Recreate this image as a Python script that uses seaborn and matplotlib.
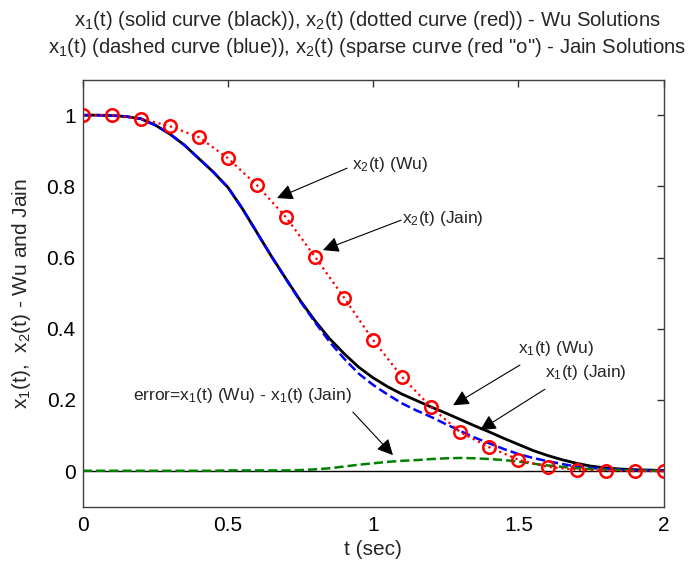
import numpy as np
import matplotlib
matplotlib.use('Agg')
import matplotlib.pyplot as plt
import seaborn as sns

# time grid of the continuous curves (sec)
t_fine = [0.0, 0.05, 0.1, 0.15, 0.2, 0.25, 0.3, 0.35, 0.4, 0.45, 0.5, 0.55, 0.6,
          0.65, 0.7, 0.75, 0.8, 0.85, 0.9, 0.95, 1.0, 1.05, 1.1, 1.15, 1.2, 1.25,
          1.3, 1.35, 1.4, 1.45, 1.5, 1.55, 1.6, 1.65, 1.7, 1.75, 1.8, 1.85, 1.9,
          1.95, 2.0]

x1_wu = [1.0, 1.0, 0.999, 0.996, 0.99, 0.972, 0.947, 0.916, 0.878, 0.84, 0.797,
         0.737, 0.67, 0.603, 0.54, 0.478, 0.422, 0.372, 0.33, 0.292, 0.262, 0.237,
         0.216, 0.198, 0.18, 0.163, 0.145, 0.127, 0.11, 0.092, 0.075, 0.058,
         0.044, 0.032, 0.022, 0.014, 0.009, 0.006, 0.004, 0.003, 0.002]

x1_jain = [1.0, 1.0, 0.999, 0.996, 0.99, 0.972, 0.947, 0.916, 0.878, 0.84, 0.797,
           0.737, 0.67, 0.603, 0.539, 0.476, 0.418, 0.363, 0.316, 0.274, 0.242, 0.215,
           0.19, 0.17, 0.152, 0.132, 0.113, 0.094, 0.078, 0.062, 0.048, 0.037,
           0.028, 0.02, 0.013, 0.009, 0.006, 0.004, 0.003, 0.002, 0.002]

error = [0.001, 0.001, 0.001, 0.001, 0.001, 0.001, 0.001, 0.001, 0.001, 0.001,
         0.002, 0.002, 0.002, 0.002, 0.002, 0.003, 0.005, 0.008, 0.013, 0.018,
         0.022, 0.026, 0.029, 0.031, 0.034, 0.036, 0.037, 0.036, 0.034, 0.031,
         0.027, 0.021, 0.016, 0.012, 0.008, 0.006, 0.004, 0.003, 0.002, 0.001,
         0.001]

# sparse grid
t_sparse = [0.0, 0.1, 0.2, 0.3, 0.4, 0.5, 0.6, 0.7, 0.8, 0.9, 1.0, 1.1, 1.2,
            1.3, 1.4, 1.5, 1.6, 1.7, 1.8, 1.9, 2.0]
x2_wu = [1.0, 1.0, 0.99, 0.969, 0.938, 0.879, 0.803, 0.713, 0.602, 0.487, 0.368,
         0.264, 0.179, 0.109, 0.067, 0.032, 0.012, 0.004, 0.001, 0.0, 0.0]
x2_jain = [1.0, 1.0, 0.99, 0.969, 0.938, 0.879, 0.803, 0.713, 0.602, 0.487, 0.368,
           0.264, 0.179, 0.109, 0.067, 0.032, 0.012, 0.004, 0.001, 0.0, 0.0]

sns.set_style('white')
plt.rcParams['font.family'] = ['Liberation Sans', 'DejaVu Sans']
plt.rcParams['mathtext.fontset'] = 'custom'
plt.rcParams['mathtext.rm'] = 'Liberation Sans'
plt.rcParams['mathtext.it'] = 'Liberation Sans'

fig = plt.figure(figsize=(6.96, 5.67), dpi=100)
ax = fig.add_axes([0.1188, 0.1063, 0.8348, 0.7534])

ax.axhline(0, color='k', lw=1.0, zorder=1)
sns.lineplot(x=t_fine, y=x1_wu, color='k', lw=2.0, ax=ax)
sns.lineplot(x=t_fine, y=x1_jain, color='blue', lw=1.8, linestyle='--', ax=ax)
sns.lineplot(x=t_fine, y=error, color='#008000', lw=1.8, linestyle='--', ax=ax)
sns.lineplot(x=t_sparse, y=x2_wu, color='red', lw=1.6, linestyle=':', ax=ax)
ax.plot(t_sparse, x2_jain, linestyle='none', marker='o', markersize=9,
        markerfacecolor='none', markeredgecolor='red', markeredgewidth=1.8)

ax.set_xlim(0, 2)
ax.set_ylim(-0.1, 1.1)
ax.set_xticks([0, 0.5, 1, 1.5, 2])
ax.set_xticklabels(['0', '0.5', '1', '1.5', '2'])
ax.set_yticks([0, 0.2, 0.4, 0.6, 0.8, 1])
ax.set_yticklabels(['0', '0.2', '0.4', '0.6', '0.8', '1'])
ax.tick_params(direction='in', length=5, width=1, top=True, right=True,
               labelsize=15, colors='#333333', labelcolor='black')
ax.tick_params(axis='x', pad=7)
ax.tick_params(axis='y', pad=5)
for s in ax.spines.values():
    s.set_color('#404040')
    s.set_linewidth(1.0)

ax.set_xlabel('t (sec)', fontsize=15, labelpad=3)
ax.set_ylabel('x$_1$(t),  x$_2$(t) - Wu and Jain', fontsize=15, labelpad=10)
ax.set_title('x$_1$(t) (solid curve (black)), x$_2$(t) (dotted curve (red)) - Wu Solutions\n'
             'x$_1$(t) (dashed curve (blue)), x$_2$(t) (sparse curve (red "o") - Jain Solutions',
             fontsize=14.6, pad=19, linespacing=1.25, x=0.49)

arrow = dict(arrowstyle='-|>', color='k', lw=0.8, mutation_scale=24,
             shrinkA=0, shrinkB=0)
notes = [
    ('x$_2$(t) (Wu)', (0.927, 0.86), (0.91, 0.851), (0.669, 0.767)),
    ('x$_2$(t) (Jain)', (1.099, 0.711), (1.096, 0.705), (0.827, 0.621)),
    ('x$_1$(t) (Wu)', (1.498, 0.345), (1.505, 0.298), (1.275, 0.185)),
    ('x$_1$(t) (Jain)', (1.591, 0.278), (1.591, 0.23), (1.368, 0.115)),
    ('error=x$_1$(t) (Wu) - x$_1$(t) (Jain)', (0.173, 0.213), (0.93, 0.166), (1.068, 0.045)),
]
for label, tpos, tail, head in notes:
    ax.annotate('', xy=head, xytext=tail, arrowprops=arrow)
    ax.text(tpos[0], tpos[1], label, fontsize=12.5, va='center', ha='left')

fig.savefig('out.png', dpi=100)
